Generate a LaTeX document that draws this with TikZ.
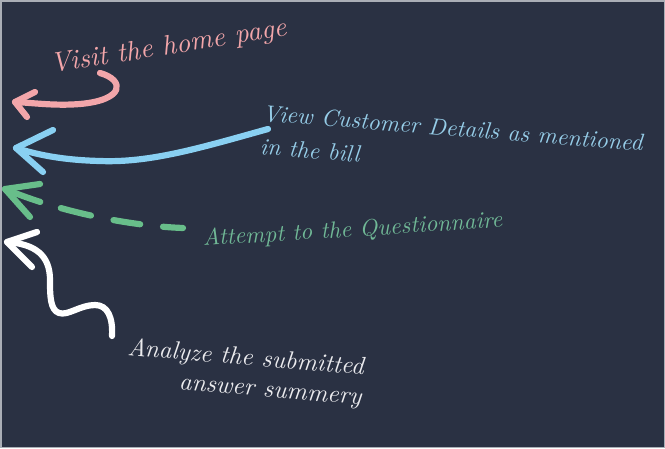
\documentclass[tikz,border=0pt]{standalone}
\usepackage{graphicx}
\definecolor{bg}{RGB}{42,49,67}
\definecolor{pinkc}{RGB}{243,166,170}
\definecolor{bluec}{RGB}{137,208,242}
\definecolor{bluet}{RGB}{150,205,232}
\definecolor{greenc}{RGB}{104,190,138}
\definecolor{greent}{RGB}{112,184,150}
\definecolor{whitet}{RGB}{235,235,238}
\definecolor{framec}{RGB}{170,174,182}
\begin{document}
\begin{tikzpicture}[x=1pt,y=-1pt,
  stroke/.style={line width=6.2pt,line cap=round,line join=round},
  lbl/.style={inner sep=0pt,font=\itshape}]
\fill[bg] (0,0) rectangle (665,448);
\draw[framec,line width=1.5pt] (0.75,0.75) rectangle (664.25,447.25);
\useasboundingbox (0,0) rectangle (665,448);

% pink arrow
\coordinate (p0) at (100,73);
\coordinate (p1) at (15,102);
\coordinate (pa) at (35,92);
\coordinate (pb) at (27,117);
\draw[stroke,pinkc] (p0) .. controls (125,80) and (125,100) .. (80,104) .. controls (55,106) and (35,103) .. (p1);
\draw[stroke,pinkc] (pa) -- (p1) -- (pb);

% blue arrow
\coordinate (b0) at (268,129);
\coordinate (b1) at (16,148);
\coordinate (ba) at (53,130);
\coordinate (bb) at (43,172);
\draw[stroke,bluec] (b0) .. controls (200,148) and (150,163) .. (100,161) .. controls (60,160) and (35,154) .. (b1);
\draw[stroke,bluec] (ba) -- (b1) -- (bb);

% green dashed arrow
\coordinate (g0) at (183,228);
\coordinate (g1) at (5,189);
\coordinate (ga) at (40,184);
\coordinate (gb) at (30,217);
\draw[stroke,greenc,dash pattern={on 20pt off 23pt on 27pt off 23pt on 31pt off 21.5pt on 80pt off 10pt}] (g0) .. controls (130,226) and (60,212) .. (g1);
\draw[stroke,greenc] (ga) -- (g1) -- (gb);

% white arrow
\coordinate (w0) at (112,336);
\coordinate (w1) at (7,242);
\coordinate (wa) at (37,232);
\coordinate (wb) at (32,267);
\draw[stroke,white] (w0) .. controls (113,318) and (108,305) .. (95,305) .. controls (80,305) and (68,316) .. (59,313) .. controls (50,310) and (50,295) .. (50,280) .. controls (50,255) and (35,244) .. (w1);
\draw[stroke,white] (wa) -- (w1) -- (wb);

% labels
\node[lbl,pinkc,anchor=base west,rotate=9] (tVisit) at (52,73) {\resizebox{238pt}{!}{Visit the home page}};
\node[lbl,bluet,anchor=base west,rotate=-4.5] (tView) at (262,121) {\resizebox{381pt}{!}{\begin{tabular}[t]{@{}l@{}}View Customer Details as mentioned\\[2.2pt]in the bill\end{tabular}}};
\node[lbl,greent,anchor=base west,rotate=3.6] (tAtt) at (203,246) {\resizebox{300pt}{!}{Attempt to the Questionnaire}};
\node[lbl,whitet,anchor=base west,rotate=-4.8] (tAna) at (127,355) {\resizebox{237pt}{!}{\begin{tabular}[t]{@{}r@{}}Analyze the submitted\\answer summery\end{tabular}}};
\end{tikzpicture}
\end{document}
